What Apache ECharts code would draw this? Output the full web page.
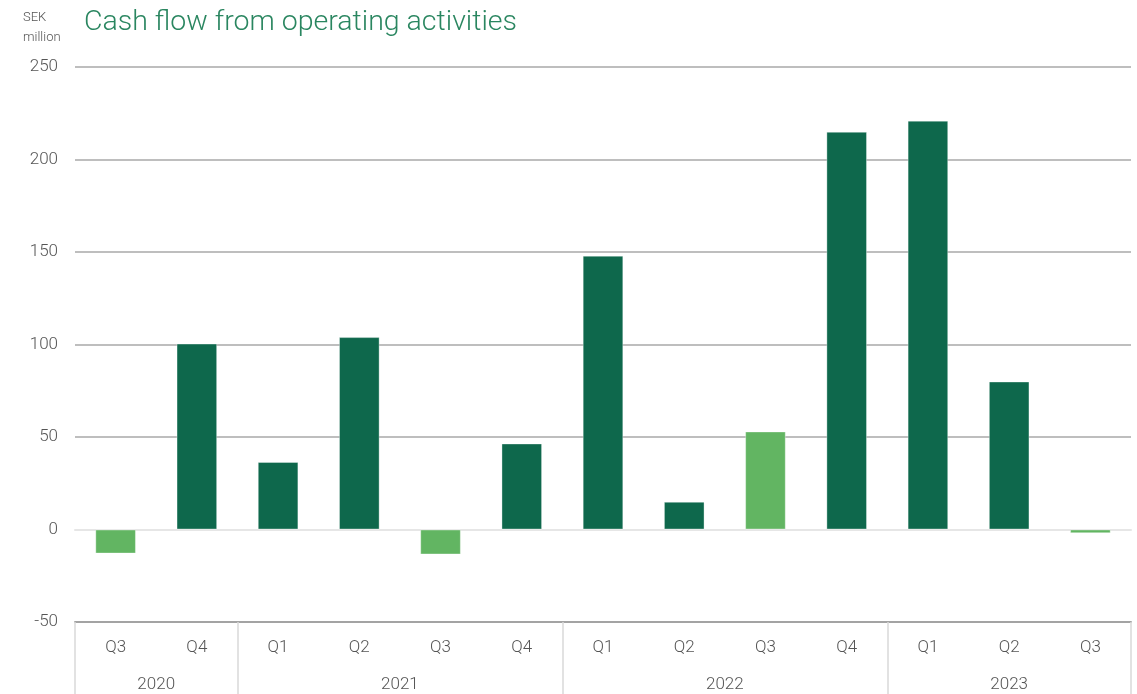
<!DOCTYPE html>
<html>
<head>
<meta charset="utf-8">
<script src="https://cdn.jsdelivr.net/npm/echarts@6/dist/echarts.min.js"></script>
<style>
  html, body { margin: 0; padding: 0; background: #ffffff; }
  #chart { width: 1137px; height: 694px; }
</style>
</head>
<body>
<div id="chart"></div>
<script>
// Quarterly cash flow from operating activities, SEK million
const quarters = ['Q3', 'Q4', 'Q1', 'Q2', 'Q3', 'Q4', 'Q1', 'Q2', 'Q3', 'Q4', 'Q1', 'Q2', 'Q3'];
const cashFlow = [-13, 100.5, 36.5, 104, -13.5, 46.5, 148, 15, 53, 215, 221, 80, -2];

// Year groups: label, first quarter index, number of quarters
const years = ['2020', '2021', '2022', '2023'];
const yearStart = [0, 2, 6, 10];
const yearLength = [2, 4, 4, 3];

const yTicks = [-50, 0, 50, 100, 150, 200, 250];

const DARK = '#0e684c';
const LIGHT = '#62b562';
const FONT = 'Roboto';

// Positions on the year axis (in quarter units): group centres and boundaries
const yearCenters = years.map((_, i) => yearStart[i] + yearLength[i] / 2);
const yearBounds = yearStart.concat([yearStart[3] + yearLength[3]]);

const chart = echarts.init(document.getElementById('chart'), null, { renderer: 'canvas' });

chart.setOption({
  animation: false,
  backgroundColor: '#ffffff',
  title: [
    {
      text: 'Cash flow from operating activities',
      left: 79, top: 3,
      textStyle: { color: '#2a8660', fontSize: 28.5, fontWeight: 300, fontFamily: FONT }
    },
    {
      text: 'SEK\nmillion',
      left: 18, top: 3,
      textStyle: { color: '#555555', fontSize: 13, fontWeight: 300, fontFamily: FONT, lineHeight: 20 }
    }
  ],
  grid: { left: 75, right: 6, top: 67, bottom: 72, containLabel: false },
  xAxis: [
    {
      // quarter labels and the bottom axis line
      type: 'category',
      data: quarters,
      position: 'bottom',
      boundaryGap: true,
      axisLine: { show: true, onZero: false, lineStyle: { color: '#a3a3a3', width: 2 } },
      axisTick: { show: false },
      axisLabel: {
        color: '#555555', fontSize: 17, fontWeight: 300, fontFamily: FONT,
        margin: 17, interval: 0
      },
      splitLine: { show: false }
    },
    {
      // year groups: separators at group boundaries, labels at group centres
      type: 'value',
      position: 'bottom',
      min: 0,
      max: yearBounds[yearBounds.length - 1],
      axisLine: { show: false, onZero: false },
      axisTick: {
        show: true,
        customValues: yearBounds,
        length: 72,
        lineStyle: { color: '#d9d9d9', width: 1.5 }
      },
      axisLabel: {
        show: true,
        customValues: yearCenters,
        formatter: function (v) {
          const i = yearCenters.indexOf(v);
          return i >= 0 ? years[i] : '';
        },
        color: '#555555', fontSize: 17, fontWeight: 300, fontFamily: FONT,
        margin: 54
      },
      splitLine: { show: false }
    },
    {
      // light baseline at zero
      type: 'category',
      data: quarters,
      position: 'bottom',
      axisLine: { show: true, onZero: true, lineStyle: { color: '#e6e6e6', width: 2 } },
      axisTick: { show: false },
      axisLabel: { show: false },
      splitLine: { show: false }
    }
  ],
  yAxis: {
    type: 'value',
    min: yTicks[0],
    max: yTicks[yTicks.length - 1],
    interval: 50,
    axisLine: { show: false },
    axisTick: { show: false },
    axisLabel: {
      color: '#555555', fontSize: 17, fontWeight: 300, fontFamily: FONT, margin: 17
    },
    splitLine: {
      show: true,
      lineStyle: { color: '#a8a8a8', width: 1.5 }
    }
  },
  series: [
    {
      type: 'bar',
      xAxisIndex: 0,
      yAxisIndex: 0,
      barWidth: '50%',
      z: 5,
      data: cashFlow.map((v, i) => ({
        value: v,
        itemStyle: { color: quarters[i] === 'Q3' ? LIGHT : DARK }
      })),
      itemStyle: { borderColor: 'rgba(255,255,255,0.35)', borderWidth: 1 }
    }
  ]
});
</script>
</body>
</html>
